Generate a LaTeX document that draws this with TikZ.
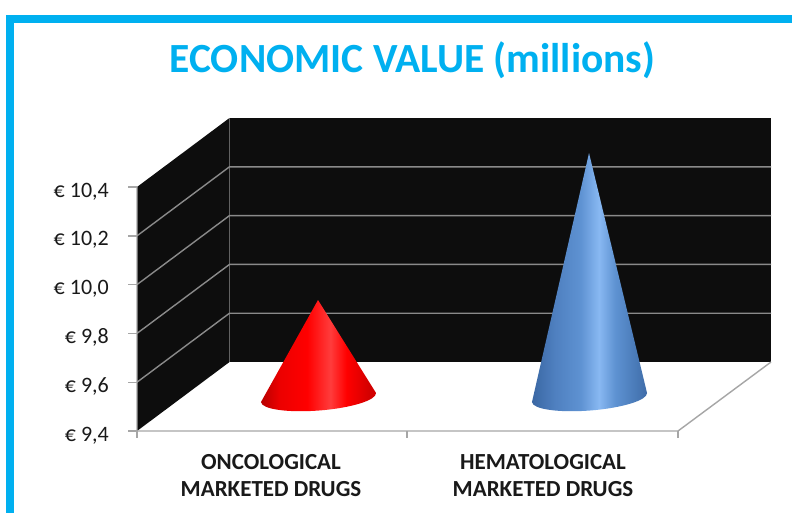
\documentclass[tikz,border=0pt]{standalone}
\usepackage{fontspec}
\setmainfont{Carlito}
\definecolor{framecyan}{HTML}{00B0F0}
\definecolor{wallblack}{HTML}{0D0D0D}
\definecolor{gridgray}{HTML}{8A8A8A}
\definecolor{axisgray}{HTML}{A6A6A6}
\definecolor{rdark}{HTML}{B80000}
\definecolor{rmid}{HTML}{EC0000}
\definecolor{rmain}{HTML}{FF0000}
\definecolor{rlight}{HTML}{FF3C3C}
\definecolor{redge}{HTML}{D20000}
\definecolor{bdark}{HTML}{3A67A3}
\definecolor{bmid}{HTML}{4F80C0}
\definecolor{bmain}{HTML}{5E92D2}
\definecolor{blight}{HTML}{88B8F2}
\definecolor{bedge}{HTML}{3E6CA8}
\pgfdeclarehorizontalshading{redcone}{100bp}{color(0bp)=(rdark); color(25bp)=(rdark); color(33bp)=(rmid); color(45bp)=(rmain); color(55bp)=(rlight); color(62bp)=(rmain); color(72bp)=(redge); color(100bp)=(redge)}
\pgfdeclarehorizontalshading{bluecone}{100bp}{color(0bp)=(bdark); color(25bp)=(bdark); color(35bp)=(bmid); color(46bp)=(bmain); color(54bp)=(blight); color(61bp)=(bmain); color(75bp)=(bedge); color(100bp)=(bedge)}
\tikzset{
  wall/.style={fill=wallblack},
  gridline/.style={draw=gridgray, line width=1.4pt},
  axisline/.style={draw=axisgray, line width=1.4pt},
  ylab/.style={anchor=base east, inner sep=0pt, font=\fontsize{22}{25}\selectfont, text=black!90},
  catlab/.style={anchor=center, inner sep=0pt, align=center, font=\fontsize{23}{27}\selectfont\bfseries, text=black!90},
  titlelab/.style={anchor=base, inner sep=0pt, font=\fontsize{41.5}{48}\selectfont\bfseries, text=framecyan},
}
\begin{document}
\begin{tikzpicture}[x=1pt,y=-1pt]
\useasboundingbox (0,0) rectangle (792,512);
\clip (0,0) rectangle (792,512);
\fill[white] (0,0) rectangle (792,512);
% corners of the 3D box
\coordinate (FT) at (137,187);
\coordinate (FL) at (137,431);
\coordinate (FR) at (678,431);
\coordinate (BT) at (229.5,118);
\coordinate (BL) at (229.5,362);
\coordinate (BR) at (771,362);
% walls
\fill[wall] (FT) -- (BT) -- (BL) -- (FL) -- cycle;
\fill[wall] (BT) rectangle (BR);
% gridlines
\foreach \k in {1,...,4}{
  \draw[gridline] (137,431-48.8*\k) -- ++(92.5,-69) -- (771,362-48.8*\k);
}
% axes and floor edges
\draw[axisline] (FT) -- (FL) -- (FR) -- (BR);
\foreach \k in {0,...,5}{
  \draw[axisline] (128,431-48.8*\k) -- (137,431-48.8*\k);
}
\foreach \xx in {137,407,678}{
  \draw[axisline] (\xx,431) -- (\xx,438);
}
% y labels
\node[ylab] (l0) at (109,441) {€ 9,4};
\node[ylab] (l1) at (109,392.2) {€ 9,6};
\node[ylab] (l2) at (109,343.4) {€ 9,8};
\node[ylab] (l3) at (109,294.6) {€ 10,0};
\node[ylab] (l4) at (109,245.8) {€ 10,2};
\node[ylab] (l5) at (109,197) {€ 10,4};
% red cone
\begin{scope}[shift={(318.5,397.5)}, rotate=4.5]
  \shade[shading=redcone] (7.15,-97.24) -- (-57.7,0) arc[start angle=180, end angle=0, x radius=57.7, y radius=13] -- cycle;
\end{scope}
% blue cone
\begin{scope}[shift={(589.5,397.5)}, rotate=4.5]
  \shade[shading=bluecone] (18.7,-243.8) -- (-57.7,0) arc[start angle=180, end angle=0, x radius=57.7, y radius=13] -- cycle;
\end{scope}
% category labels
\node[catlab] (c1) at (271,476) {ONCOLOGICAL\\MARKETED DRUGS};
\node[catlab] (c2) at (543,476) {HEMATOLOGICAL\\MARKETED DRUGS};
% title
\node[titlelab] (title) at (412.5,72) {ECONOMIC VALUE (millions)};
% frame
\draw[framecyan, line width=8pt] (10,19) rectangle (810,530);
\end{tikzpicture}
\end{document}
